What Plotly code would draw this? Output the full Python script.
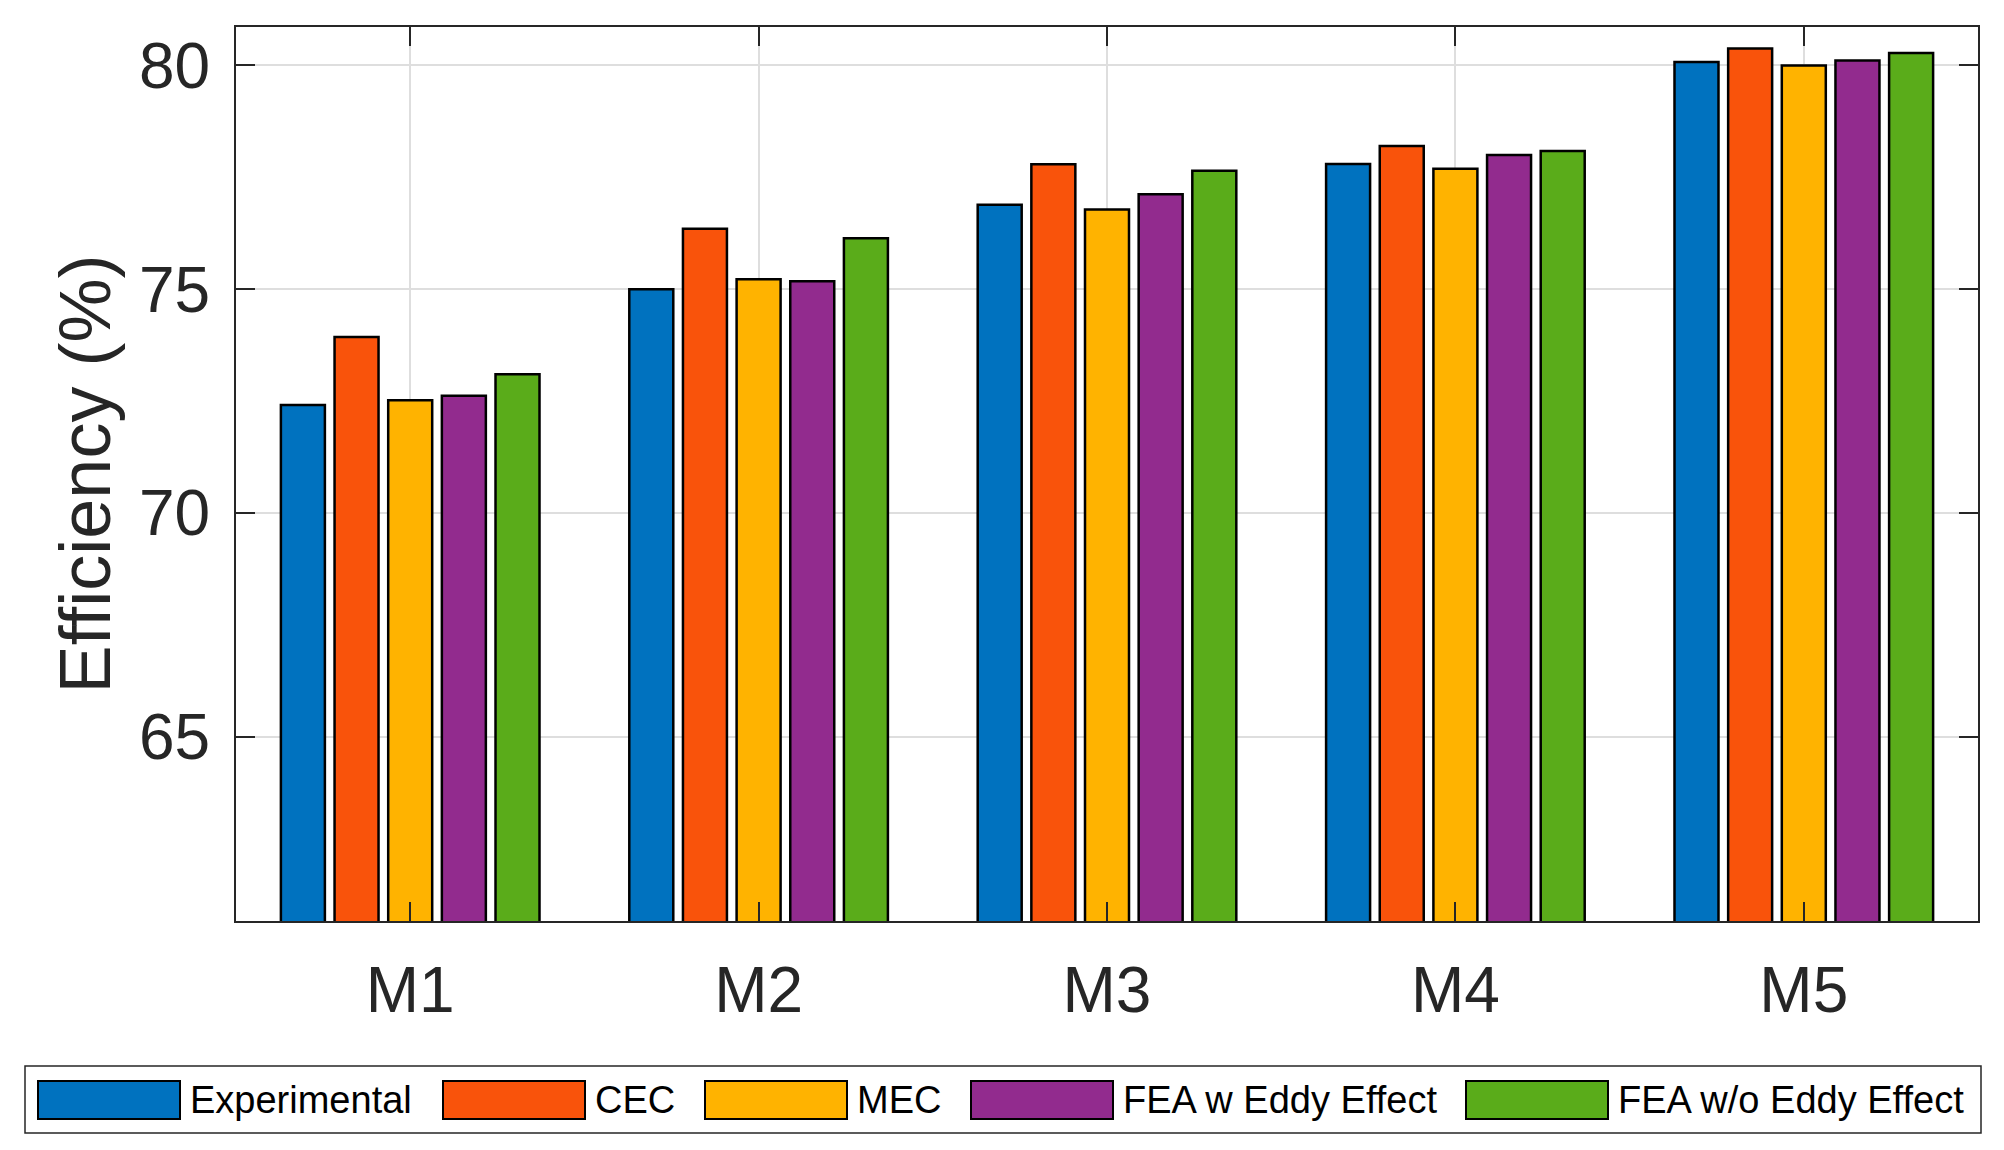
import plotly.graph_objects as go

# ---- data ----
categories = ["M1", "M2", "M3", "M4", "M5"]
series_names = ["Experimental", "CEC", "MEC", "FEA w Eddy Effect", "FEA w/o Eddy Effect"]
experimental = [72.41, 75.00, 76.89, 77.80, 80.08]
cec = [73.93, 76.35, 77.79, 78.20, 80.38]
mec = [72.52, 75.22, 76.78, 77.69, 80.00]
fea_eddy = [72.62, 75.18, 77.12, 78.00, 80.11]
fea_no_eddy = [73.10, 76.14, 77.65, 78.09, 80.28]
y_ticks = [65, 70, 75, 80]
y_range = [60.88, 80.86]

series_values = [experimental, cec, mec, fea_eddy, fea_no_eddy]
colors = ["#0072BF", "#F9530B", "#FFB300", "#922B8E", "#5AAC1A"]

FONT = "Liberation Sans, Arial, Helvetica, sans-serif"
AX = "#262626"

fig = go.Figure()
for name, vals, col in zip(series_names, series_values, colors):
    fig.add_trace(go.Bar(
        x=categories, y=vals, name=name,
        marker=dict(color=col, line=dict(color="black", width=2.5)),
        showlegend=False,
    ))

# page body has an 8px default margin; work in screen pixels and subtract it
OFF = 8
W_FIG, H_FIG = 2004 - OFF, 1150 - OFF
L, R, T, B = 236 - OFF, 1978 - OFF, 27 - OFF, 921 - OFF


def px(x):
    return (x - OFF - L) / (R - L)


def py(y):
    return (B - (y - OFF)) / (B - T)


shapes = [dict(type="rect", xref="paper", yref="paper",
               x0=px(25), x1=px(1981), y0=py(1133), y1=py(1066),
               line=dict(color=AX, width=1.5), fillcolor="white", layer="above")]
annotations = []
swatch_starts = [38, 443, 705, 971, 1466]
SW = 142
for start, name, col in zip(swatch_starts, series_names, colors):
    shapes.append(dict(type="rect", xref="paper", yref="paper",
                       x0=px(start), x1=px(start + SW), y0=py(1119), y1=py(1081),
                       line=dict(color="black", width=2), fillcolor=col, layer="above"))
    annotations.append(dict(xref="paper", yref="paper", x=px(start + SW + 8), y=py(1100),
                            text=name, showarrow=False, xanchor="left", yanchor="middle",
                            font=dict(family=FONT, size=38, color="black")))

fig.update_layout(
    width=W_FIG, height=H_FIG,
    margin=dict(l=L, r=W_FIG - R, t=T, b=H_FIG - B, pad=0),
    paper_bgcolor="white", plot_bgcolor="white",
    barmode="group", bargap=0.23, bargroupgap=0.18,
    font=dict(family=FONT, color=AX),
    shapes=shapes, annotations=annotations,
    showlegend=False,
)
fig.update_xaxes(
    type="category", range=[-0.5, 4.5],
    showline=True, linecolor=AX, linewidth=2, mirror="ticks",
    ticks="inside", ticklen=19, tickwidth=2, tickcolor=AX,
    showgrid=True, gridcolor="#dedede", gridwidth=2,
    tickfont=dict(family=FONT, size=64, color=AX),
    ticklabelstandoff=12,
)
fig.update_yaxes(
    range=y_range, tickvals=y_ticks,
    showline=True, linecolor=AX, linewidth=2, mirror="ticks",
    ticks="inside", ticklen=19, tickwidth=2, tickcolor=AX,
    showgrid=True, gridcolor="#dedede", gridwidth=2, zeroline=False,
    tickfont=dict(family=FONT, size=64, color=AX),
    ticklabelstandoff=11,
    title=dict(text="Efficiency (%)", font=dict(family=FONT, size=72, color=AX), standoff=5),
)

fig.write_html("out.html")
